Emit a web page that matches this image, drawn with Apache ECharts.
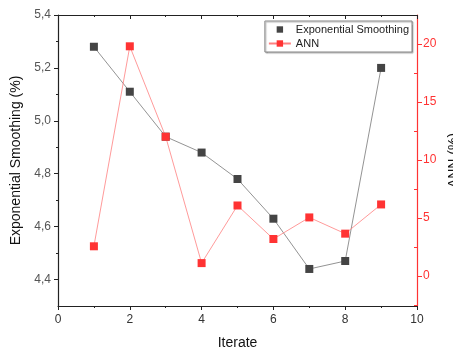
<!DOCTYPE html>
<html lang="en">
<head>
    <meta charset="UTF-8">
    <title>Exponential Smoothing vs ANN</title>
    <style>
        html, body { margin: 0; padding: 0; background: #fff; }
        #main { width: 453px; height: 351px; }
    </style>
</head>
<body>
<div id="main"></div>
<script src="https://cdn.jsdelivr.net/npm/echarts@6/dist/echarts.min.js"></script>
<script>
    // data
    const iterations = [1, 2, 3, 4, 5, 6, 7, 8, 9];
    const expSmoothing = [5.28, 5.11, 4.94, 4.88, 4.78, 4.63, 4.44, 4.47, 5.20];
    const ann = [2.55, 19.8, 12.0, 1.1, 6.07, 3.18, 5.04, 3.64, 6.16];

    const leftTicks = [4.4, 4.6, 4.8, 5.0, 5.2, 5.4];
    const leftMinor = [4.5, 4.7, 4.9, 5.1, 5.3];
    const rightTicks = [0, 5, 10, 15, 20];
    const rightMinor = [-2.5, 2.5, 7.5, 12.5, 17.5];

    const RED = '#ff3333';
    const GRAY = '#444';

    const myChart = echarts.init(document.getElementById('main'));

    const comma = v => v.toFixed(1).replace('.', ',');
    const pair = arr => arr.map((v, i) => [iterations[i], v]);

    const option = {
        animation: false,
        grid: { left: 58, right: 36, top: 15, bottom: 45, outerBoundsMode: 'none', containLabel: false },
        legend: {
            right: 41, top: 21,
            orient: 'vertical',
            itemGap: 3,
            itemWidth: 22, itemHeight: 8,
            padding: [3, 3, 3, 3],
            borderColor: '#888', borderWidth: 1,
            shadowColor: 'rgba(0,0,0,0.3)', shadowOffsetX: 1, shadowOffsetY: 1, shadowBlur: 1,
            backgroundColor: '#fff',
            textStyle: { fontFamily: 'Liberation Sans', fontSize: 11, color: '#222' },
            data: [
                { name: 'Exponential Smoothing', lineStyle: { opacity: 0 } },
                { name: 'ANN' }
            ]
        },
        xAxis: [{
            type: 'value', min: 0, max: 10, interval: 2,
            name: 'Iterate', nameLocation: 'middle', nameGap: 30,
            nameTextStyle: { fontFamily: 'Liberation Sans', fontSize: 14, color: '#111' },
            axisLine: { onZero: false, lineStyle: { color: '#222', width: 1.2 } },
            axisTick: { length: 4, lineStyle: { color: '#222' } },
            minorTick: { show: true, splitNumber: 2, length: 2, lineStyle: { color: '#222' } },
            axisLabel: { fontFamily: 'Liberation Sans', fontSize: 12, color: '#333', margin: 8 },
            splitLine: { show: false }
        }, {
            type: 'value', min: 0, max: 10, interval: 2, position: 'top',
            axisLine: { show: true, onZero: false, lineStyle: { color: '#222', width: 1.2 } },
            axisTick: { inside: true, length: 4, lineStyle: { color: '#222' } },
            minorTick: { show: true, splitNumber: 2, length: 2, lineStyle: { color: '#222' } },
            axisLabel: { show: false },
            splitLine: { show: false }
        }],
        yAxis: [{
            type: 'value', min: 4.3, max: 5.4, position: 'left',
            name: 'Exponential Smoothing (%)', nameLocation: 'middle', nameGap: 32,
            nameTextStyle: { fontFamily: 'Liberation Sans', fontSize: 14, color: '#111' },
            axisLine: { show: true, onZero: false, lineStyle: { color: '#222', width: 1.2 } },
            axisTick: { show: true, length: 4, customValues: leftTicks, lineStyle: { color: '#222' } },
            axisLabel: { customValues: leftTicks, formatter: comma, fontFamily: 'Liberation Sans', fontSize: 12, color: '#555', margin: 7 },
            splitLine: { show: false }
        }, {
            type: 'value', min: -2.6, max: 22.5, position: 'right',
            name: 'ANN (%)', nameLocation: 'middle', nameGap: 28, nameRotate: 90,
            nameTextStyle: { fontFamily: 'Liberation Sans', fontSize: 14, color: '#111' },
            axisLine: { show: true, onZero: false, lineStyle: { color: RED, width: 1.2 } },
            axisTick: { show: true, length: 5, customValues: rightTicks, lineStyle: { color: RED } },
            axisLabel: { customValues: rightTicks, fontFamily: 'Liberation Sans', fontSize: 12, color: RED, margin: 6 },
            splitLine: { show: false }
        }, {
            // minor ticks left
            type: 'value', min: 4.3, max: 5.4, position: 'left',
            axisLine: { show: false, onZero: false },
            axisTick: { show: true, length: 2, customValues: leftMinor, lineStyle: { color: '#222' } },
            axisLabel: { show: false },
            splitLine: { show: false }
        }, {
            // minor ticks right
            type: 'value', min: -2.6, max: 22.5, position: 'right',
            axisLine: { show: false, onZero: false },
            axisTick: { show: true, inside: true, length: 3, customValues: rightMinor, lineStyle: { color: RED } },
            axisLabel: { show: false },
            splitLine: { show: false }
        }],
        series: [{
            name: 'Exponential Smoothing',
            type: 'line', yAxisIndex: 0,
            data: pair(expSmoothing),
            symbol: 'rect', symbolSize: 8,
            itemStyle: { color: GRAY },
            lineStyle: { color: '#777', width: 0.8 }
        }, {
            name: 'ANN',
            type: 'line', yAxisIndex: 1,
            data: pair(ann),
            symbol: 'rect', symbolSize: 8,
            itemStyle: { color: RED },
            lineStyle: { color: '#ff8080', width: 0.8 }
        }]
    };
    myChart.setOption(option);
</script>
</body>
</html>
